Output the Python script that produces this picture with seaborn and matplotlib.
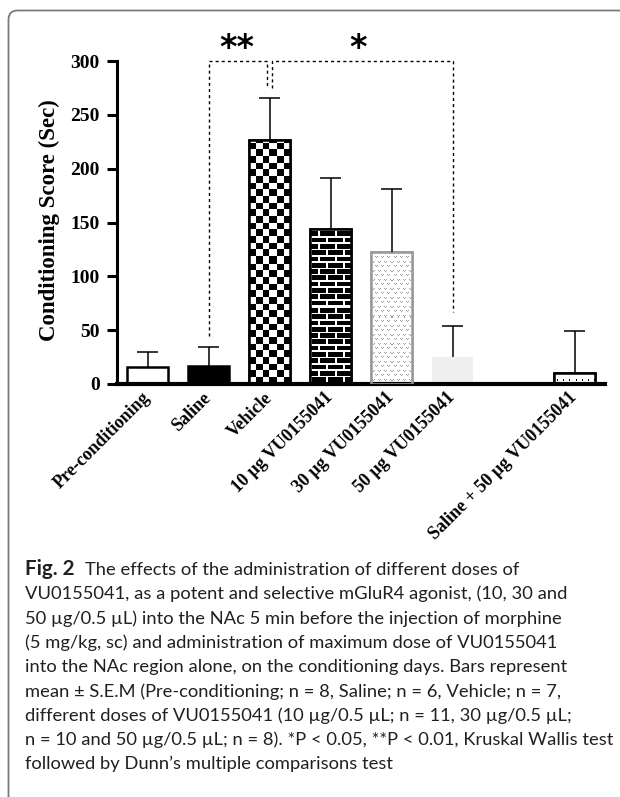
import numpy as np
import pandas as pd
import matplotlib
matplotlib.use("Agg")
import matplotlib.pyplot as plt
from matplotlib.patches import FancyBboxPatch, Rectangle
from matplotlib.transforms import IdentityTransform
import seaborn as sns

# ---------------- data ----------------
categories = ["Pre-conditioning", "Saline", "Vehicle", "10 µg VU0155041",
              "30 µg VU0155041", "50 µg VU0155041", "Saline + 50 µg VU0155041"]
means = [16, 17, 227, 144, 123, 25, 10]
sems = [13.5, 17, 39, 47.5, 58, 29, 39.5]
order = categories[:6] + [" "] + categories[6:]
tick_labels = categories[:6] + [""] + categories[6:]
y_ticks = [0, 50, 100, 150, 200, 250, 300]
y_label = "Conditioning Score (Sec)"
# significance brackets
sig_groups_a = ["Saline", "Vehicle"]
sig_groups_b = ["Vehicle", "50 µg VU0155041"]
sig_stars = ["**", "*"]
sig_foot_a = [45, 275]
sig_foot_b = [275, 67]
bracket_level = 300

caption_bold = "Fig. 2"
caption_lines = [
    "The effects of the administration of different doses of",
    "VU0155041, as a potent and selective mGluR4 agonist, (10, 30 and",
    "50 µg/0.5 µL) into the NAc 5 min before the injection of morphine",
    "(5 mg/kg, sc) and administration of maximum dose of VU0155041",
    "into the NAc region alone, on the conditioning days. Bars represent",
    "mean ± S.E.M (Pre-conditioning; n = 8, Saline; n = 6, Vehicle; n = 7,",
    "different doses of VU0155041 (10 µg/0.5 µL; n = 11, 30 µg/0.5 µL;",
    "n = 10 and 50 µg/0.5 µL; n = 8). *P < 0.05, **P < 0.01, Kruskal Wallis test",
    "followed by Dunn’s multiple comparisons test",
]

# ---------------- figure ----------------
sns.set_theme(style="white")
plt.rcParams["font.family"] = ["Liberation Serif", "DejaVu Serif"]

W_PX, H_PX = 620, 797
fig = plt.figure(figsize=(W_PX / 100, H_PX / 100), dpi=100)
fig.patch.set_facecolor("white")

ax = fig.add_axes([117 / W_PX, 1 - 384 / H_PX, 488 / W_PX, 323 / H_PX])
ax.set_facecolor("white")

df = pd.DataFrame({"group": categories, "score": means})
sns.barplot(data=df, x="group", y="score", order=order, color="white",
            width=0.66, errorbar=None, ax=ax, linewidth=1.8,
            edgecolor="black", saturation=1)

pos = {name: i for i, name in enumerate(order)}
bars = {}
for p in list(ax.patches):
    c = p.get_x() + p.get_width() / 2
    bars[order[int(round(c))]] = p

bars["Saline"].set_facecolor("black")
bars["50 µg VU0155041"].set_facecolor("#efefef")
bars["50 µg VU0155041"].set_edgecolor("#efefef")
bars["50 µg VU0155041"].set_linewidth(0)
bars["30 µg VU0155041"].set_edgecolor("#9a9a9a")

# error bars (upper only)
xs = np.array([pos[c] for c in categories], dtype=float)
m = np.array(means, dtype=float)
tops = m + np.array(sems, dtype=float)
ax.vlines(xs, m, tops, color="black", lw=1.1, zorder=6)
ax.hlines(tops, xs - 0.165, xs + 0.165, color="black", lw=1.1, zorder=6)

ax.set_xlim(-0.5, 7.5)
ax.set_ylim(0, 300)
ax.set_yticks(y_ticks)
ax.set_xticks(range(len(order)))
ax.set_xticklabels(tick_labels)
ax.set_xlabel("")
ax.set_ylabel("")
sns.despine(ax=ax)
ax.spines["left"].set_linewidth(2.2)
ax.spines["bottom"].set_linewidth(3)
ax.spines["left"].set_color("black")
ax.spines["bottom"].set_color("black")
ax.tick_params(axis="y", length=7, width=2.2, pad=5.5, labelsize=14, colors="black", left=True)
ax.tick_params(axis="x", length=0, pad=8, labelsize=13, colors="black")
for t in ax.get_yticklabels():
    t.set_fontweight("bold")
for t in ax.get_xticklabels():
    t.set_fontweight("bold")
    t.set_rotation(45)
    t.set_ha("right")
    t.set_va("center")
    t.set_rotation_mode("anchor")

fig.text(49 / W_PX, 1 - 220 / H_PX, y_label, rotation=90, ha="center", va="center",
         fontsize=16.5, fontweight="bold", color="black")

# significance brackets
dot = dict(color="black", lw=1.0, linestyle=(0, (2.2, 2.2)), clip_on=False, zorder=7)
for a, b, s, fa, fb in zip(sig_groups_a, sig_groups_b, sig_stars, sig_foot_a, sig_foot_b):
    xa, xb = pos[a], pos[b]
    if a == "Vehicle":
        xa = xa + 0.04
    if b == "Vehicle":
        xb = xb - 0.04
    ax.plot([xa, xa, xb, xb], [fa, bracket_level, bracket_level, fb], **dot)
    ax.text((pos[a] + pos[b]) / 2 - 0.04, bracket_level + 3, s, ha="center", va="baseline",
            fontsize=24, fontweight="bold", family="DejaVu Sans", color="black", clip_on=False)

# ---------------- fill patterns ----------------
fig.canvas.draw()
renderer = fig.canvas.get_renderer()


def add_pattern(bar, func, edge, lw):
    bb = bar.get_window_extent(renderer)
    w_px = max(int(round(bb.width)), 1)
    h_px = max(int(round(bb.height)), 1)
    py, px = np.indices((h_px, w_px)).astype(float)
    rgb = func(px, py)
    x0, w, h = bar.get_x(), bar.get_width(), bar.get_height()
    im = ax.imshow(rgb, extent=(x0, x0 + w, 0, h), origin="lower",
                   interpolation="nearest", aspect="auto", zorder=2)
    im.set_clip_path(bar)
    ax.add_patch(Rectangle((x0, 0), w, h, fill=False, ec=edge, lw=lw, zorder=3))


def checker(px, py):
    s = px.shape[1] / 6.0
    v = ((np.floor(px / s) + np.floor(py / s)) % 2).astype(float)
    g = 1 - v
    return np.dstack([g, g, g])


def brick(px, py):
    rh, bl = 6.3, 16.0
    row = np.floor(py / rh)
    horiz = (py % rh) < 1.6
    off = (row % 2) * bl / 2
    vert = ((px + off) % bl) < 1.6
    g = (horiz | vert).astype(float)
    return np.dstack([g, g, g])


def vdots(px, py):
    g = np.ones_like(px)
    a = (px % 6 == 1) | (px % 6 == 3)
    b = (px % 6 == 2)
    m1 = (a & (py % 9 == 4)) | (b & (py % 9 == 3))
    pxs = (px + 3) % 6
    pys = (py + 4) % 9
    a2 = (pxs == 1) | (pxs == 3)
    b2 = pxs == 2
    m2 = (a2 & (pys == 4)) | (b2 & (pys == 3))
    g[m1 | m2] = 0.62
    return np.dstack([g, g, g])


def bottom_ticks(px, py):
    g = np.ones_like(px)
    g[((px % 6) == 3) & (py >= 3) & (py <= 4)] = 0.0
    return np.dstack([g, g, g])


add_pattern(bars["Vehicle"], checker, "black", 1.8)
add_pattern(bars["10 µg VU0155041"], brick, "black", 1.8)
add_pattern(bars["30 µg VU0155041"], vdots, "#9a9a9a", 1.8)
add_pattern(bars["Saline + 50 µg VU0155041"], bottom_ticks, "black", 1.8)
ax.set_xlim(-0.5, 7.5)
ax.set_ylim(0, 300)

# ---------------- frame ----------------
frame = FancyBboxPatch((8.5, -60), 700, (H_PX - 10.5) + 60,
                       boxstyle="round,pad=0,rounding_size=9",
                       transform=IdentityTransform(), fill=False,
                       ec="#7a7a7a", lw=1.3, zorder=0)
fig.add_artist(frame)

# ---------------- caption ----------------
cap_font = ["Lato", "DejaVu Sans"]
cap_color = "#231f20"
probe = fig.text(25 / W_PX, 0.5, caption_lines[7], fontsize=12, family=cap_font)
fig.canvas.draw()
wprobe = probe.get_window_extent(renderer).width
probe.remove()
fs = 12 * 587 / wprobe

base0, step = 575, 24.3
tb = fig.text(25 / W_PX, 1 - base0 / H_PX, caption_bold, fontsize=fs * 1.12, family=cap_font,
              fontweight="bold", color=cap_color, va="baseline")
fig.canvas.draw()
bw = tb.get_window_extent(renderer).x1
fig.text((bw + 10) / W_PX, 1 - base0 / H_PX, caption_lines[0], fontsize=fs,
         family=cap_font, color=cap_color, va="baseline")
for i, line in enumerate(caption_lines[1:], start=1):
    fig.text(25 / W_PX, 1 - (base0 + step * i) / H_PX, line, fontsize=fs,
             family=cap_font, color=cap_color, va="baseline")

fig.savefig("out.png", dpi=100)
